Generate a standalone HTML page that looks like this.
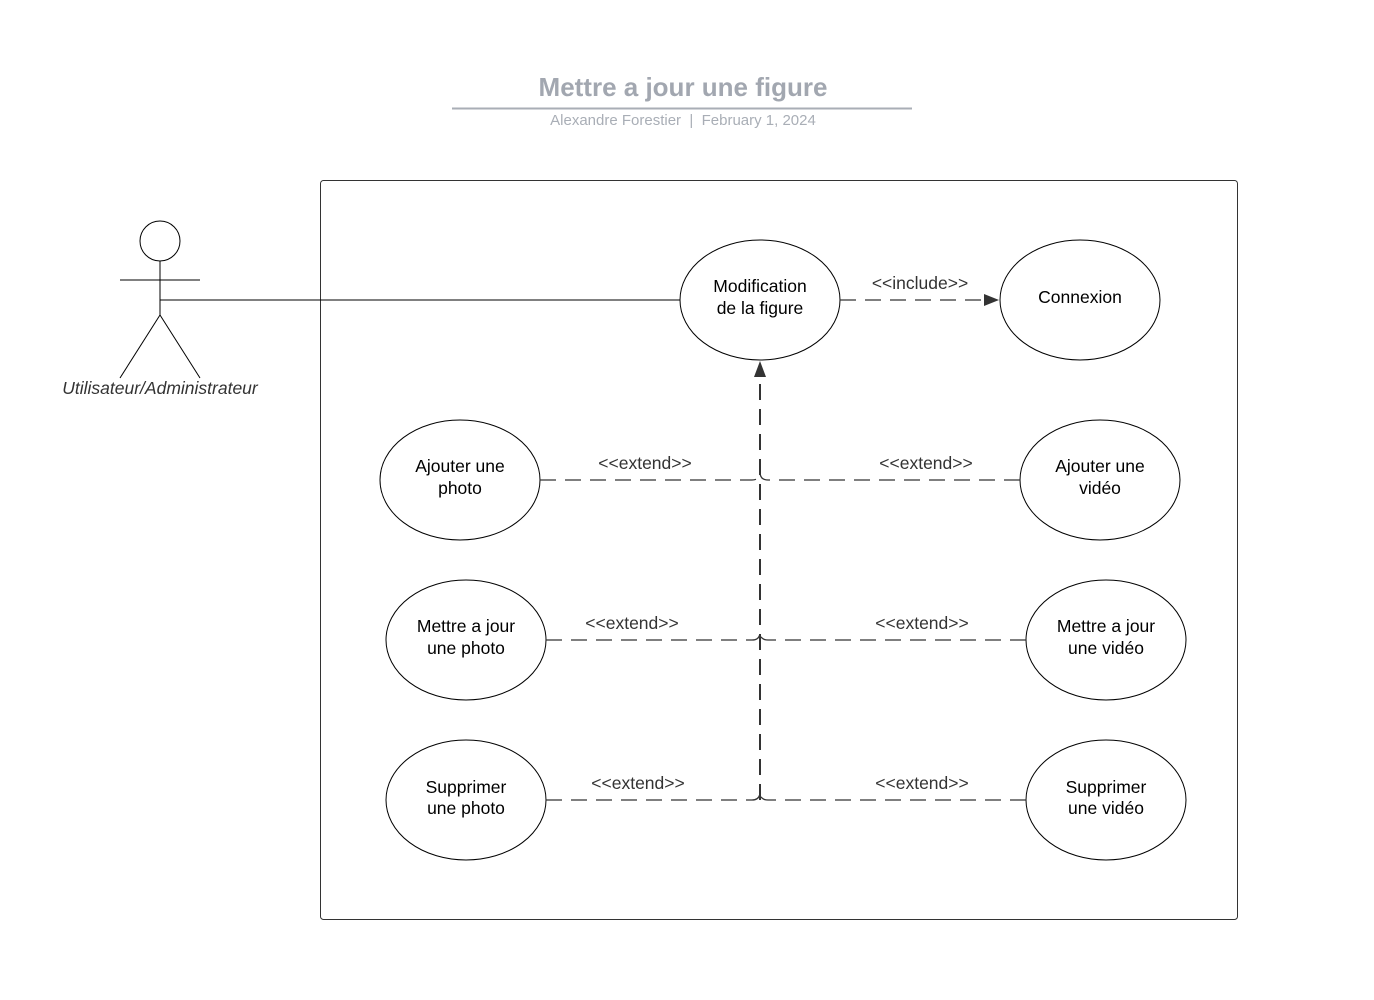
<!DOCTYPE html>
<html><head><meta charset="utf-8"><style>body{margin:0;background:#fff}svg{display:block}</style></head>
<body>
<svg width="1374" height="1000" viewBox="0 0 1374 1000" font-family="Liberation Sans, sans-serif">
<text x="683" y="96" text-anchor="middle" font-size="26" font-weight="bold" fill="#a2a7b0">Mettre a jour une figure</text>
<line x1="452" y1="108.5" x2="912" y2="108.5" stroke="#a9aeb6" stroke-width="2"/>
<text x="683" y="125" text-anchor="middle" font-size="15" fill="#a9aeb6" xml:space="preserve">Alexandre Forestier  |  February 1, 2024</text>
<rect x="320.5" y="180.5" width="917" height="739" rx="3" fill="none" stroke="#333" stroke-width="1"/>
<g stroke="#000" fill="none" stroke-width="1">
<circle cx="160" cy="241" r="20"/>
<line x1="120" y1="280" x2="200" y2="280"/>
<line x1="160" y1="261" x2="160" y2="315"/>
<line x1="160" y1="315" x2="120" y2="378"/>
<line x1="160" y1="315" x2="200" y2="378"/>
<line x1="160" y1="300" x2="680" y2="300"/>
<ellipse cx="760" cy="300" rx="80" ry="60"/>
<ellipse cx="1080" cy="300" rx="80" ry="60"/>
<ellipse cx="460" cy="480" rx="80" ry="60"/>
<ellipse cx="1100" cy="480" rx="80" ry="60"/>
<ellipse cx="466" cy="640" rx="80" ry="60"/>
<ellipse cx="1106" cy="640" rx="80" ry="60"/>
<ellipse cx="466" cy="800" rx="80" ry="60"/>
<ellipse cx="1106" cy="800" rx="80" ry="60"/>
</g>
<g stroke="#333" fill="none" stroke-width="1.3" stroke-dasharray="16,9">
<line x1="840" y1="300" x2="990" y2="300"/>
<path d="M540 480 H752 Q760 480 760 472"/>
<path d="M1020 480 H768 Q760 480 760 472"/>
<path d="M546 640 H752 Q760 640 760 632"/>
<path d="M1026 640 H768 Q760 640 760 632"/>
<path d="M546 800 H752 Q760 800 760 792"/>
<path d="M1026 800 H768 Q760 800 760 792"/>
</g>
<line x1="760" y1="800" x2="760" y2="376" stroke="#333" stroke-width="2" stroke-dasharray="16,9"/>
<polygon points="760,361 754,377 766,377" fill="#333"/>
<polygon points="999,300 984,294 984,306" fill="#333"/>
<g font-size="17.5" fill="#000" text-anchor="middle">
<text x="160" y="394" font-style="italic" fill="#333">Utilisateur/Administrateur</text>
<text x="760" y="292">Modification</text><text x="760" y="314">de la figure</text>
<text x="1080" y="303">Connexion</text>
<text x="460" y="472">Ajouter une</text><text x="460" y="494">photo</text>
<text x="1100" y="472">Ajouter une</text><text x="1100" y="494">vidéo</text>
<text x="466" y="632">Mettre a jour</text><text x="466" y="654">une photo</text>
<text x="1106" y="632">Mettre a jour</text><text x="1106" y="654">une vidéo</text>
<text x="466" y="793">Supprimer</text><text x="466" y="814">une photo</text>
<text x="1106" y="793">Supprimer</text><text x="1106" y="814">une vidéo</text>
<g fill="#333">
<text x="920" y="289">&lt;&lt;include&gt;&gt;</text>
<text x="645" y="469">&lt;&lt;extend&gt;&gt;</text>
<text x="926" y="469">&lt;&lt;extend&gt;&gt;</text>
<text x="632" y="629">&lt;&lt;extend&gt;&gt;</text>
<text x="922" y="629">&lt;&lt;extend&gt;&gt;</text>
<text x="638" y="789">&lt;&lt;extend&gt;&gt;</text>
<text x="922" y="789">&lt;&lt;extend&gt;&gt;</text>
</g>
</g>
</svg>
</body></html>
